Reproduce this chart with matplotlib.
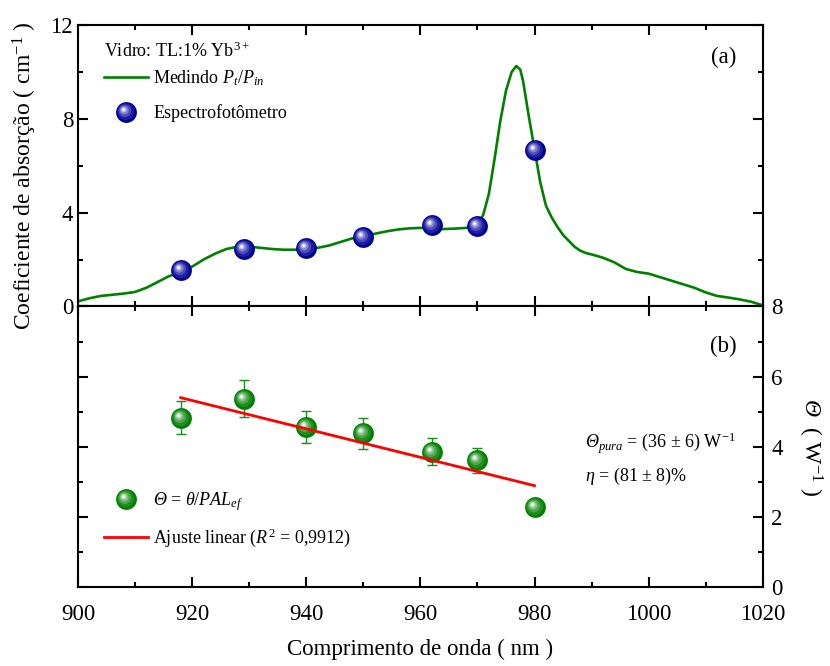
import numpy as np
import matplotlib
matplotlib.use("Agg")
import matplotlib.pyplot as plt
from matplotlib.path import Path
from matplotlib.legend_handler import HandlerTuple
from matplotlib.ticker import MultipleLocator, NullFormatter

plt.rcParams['font.family'] = ['Liberation Serif', 'DejaVu Serif']
plt.rcParams['mathtext.fontset'] = 'custom'
plt.rcParams['mathtext.rm'] = 'Liberation Serif'
plt.rcParams['mathtext.it'] = 'Liberation Serif:italic'
plt.rcParams['mathtext.bf'] = 'Liberation Serif:bold'
# \mathsf serve para o Theta maiúsculo em itálico
plt.rcParams['mathtext.sf'] = 'Liberation Serif:italic'

# (a) coeficiente de absorção medido (P_t/P_in)
wl_curve = [900, 902, 904, 906, 908, 910, 912, 914, 916, 918, 920, 922, 924, 926,
            928, 930, 932, 934, 936, 938, 940, 942, 944, 946, 948, 950, 952, 954,
            956, 958, 960, 962, 964, 966, 968, 970, 971, 972, 973, 974, 975, 976,
            976.8, 977.5, 978, 979, 980, 981, 982, 983, 984, 985, 986, 987, 988,
            989, 990, 992, 994, 996, 998, 1000, 1002, 1004, 1006, 1008, 1010,
            1012, 1014, 1016, 1018, 1020]
alpha_curve = [0.22, 0.35, 0.45, 0.5, 0.55, 0.62, 0.8, 1.05, 1.3, 1.45, 1.7, 2.0,
               2.25, 2.45, 2.55, 2.55, 2.5, 2.45, 2.42, 2.42, 2.45, 2.5, 2.6, 2.75,
               2.9, 3.0, 3.1, 3.2, 3.28, 3.33, 3.35, 3.32, 3.3, 3.32, 3.35, 3.45,
               3.9, 4.8, 6.3, 7.9, 9.2, 10.0, 10.25, 10.1, 9.6, 8.1, 6.7, 5.3, 4.3,
               3.8, 3.4, 3.05, 2.8, 2.55, 2.38, 2.28, 2.22, 2.08, 1.88, 1.6, 1.47,
               1.4, 1.25, 1.1, 0.95, 0.8, 0.6, 0.45, 0.38, 0.3, 0.2, 0.05]

# (a) espectrofotômetro
wl_spec = [918, 929, 940, 950, 962, 970, 980]
alpha_spec = [1.56, 2.46, 2.5, 2.97, 3.48, 3.44, 6.68]

# (b) Theta = theta / PAL_ef
wl_theta = [918, 929, 940, 950, 962, 970, 980]
theta = [4.83, 5.37, 4.57, 4.38, 3.86, 3.62, 2.28]
theta_err = [0.48, 0.53, 0.455, 0.44, 0.38, 0.355, 0.0]

# ajuste linear
fit_wl = [918, 980]
fit_theta = [5.40, 2.89]


def mix_white(rgb, f):
    rgb = np.array(rgb, dtype=float)
    return tuple(rgb + (1 - rgb) * f)


def sphere(ax, x, y, rgb, ms, zorder=3):
    # bolinha "3D": camadas de círculos cada vez menores e mais claros
    layers = [(0.00, 0.50, 0.00), (0.04, 0.40, 0.12), (0.08, 0.30, 0.30),
              (0.11, 0.21, 0.50), (0.13, 0.13, 0.75), (0.14, 0.06, 1.00)]
    handles = []
    for k, (off, r, f) in enumerate(layers):
        path = Path.circle((-off, off), r)
        rescale = np.abs(path.vertices).max()
        c = mix_white(rgb, f)
        h, = ax.plot(x, y, ls='none', marker=path, ms=2 * rescale * ms,
                     mfc=c, mec='none', mew=0, zorder=zorder + 0.01 * k)
        handles.append(h)
    return tuple(handles)


fig = plt.figure(figsize=(8.3, 6.66), dpi=100)
ax1 = fig.add_axes([0.094, 0.5398, 0.825, 0.4227])
ax2 = fig.add_axes([0.094, 0.1186, 0.825, 0.4212])

green = (0, 0.5, 0)
navy = (0, 0, 0.6)
hmap = {tuple: HandlerTuple(ndivide=1, pad=0)}

# ---- painel (a)
line_a, = ax1.plot(wl_curve, alpha_curve, color=green, lw=1.9, zorder=2)
sph_a = sphere(ax1, wl_spec, alpha_spec, navy, 15)

ax1.set_xlim(900, 1020)
ax1.set_ylim(0, 12)
ax1.yaxis.set_major_locator(MultipleLocator(4))
ax1.yaxis.set_minor_locator(MultipleLocator(2))
ax1.xaxis.set_major_locator(MultipleLocator(20))
ax1.xaxis.set_minor_locator(MultipleLocator(10))
ax1.xaxis.set_major_formatter(NullFormatter())
ax1.set_ylabel('Coeficiente de absorção ( cm$^{-1}$ )', fontsize=17)
ax1.yaxis.set_label_coords(-0.057, 0.464)

leg1 = ax1.legend([line_a, sph_a], ['Medindo $P_t/P_{in}$', 'Espectrofotômetro'],
                  handler_map=hmap,
                  title='Vidro: TL:1% Yb$^{3+}$', alignment='left',
                  loc='upper left', bbox_to_anchor=(0.02, 0.985), frameon=False,
                  fontsize=13, title_fontsize=13, handlelength=2.4,
                  handletextpad=0.3, labelspacing=0.92, borderpad=0.2)
leg1._legend_box.sep = 5
ax1.text(0.943, 0.883, '(a)', transform=ax1.transAxes, fontsize=16.5,
         ha='center', va='center')

# ---- painel (b)
ax2.errorbar(wl_theta, theta, yerr=theta_err, fmt='none', ecolor=(0.1, 0.55, 0.1),
             elinewidth=1, capsize=3.6, capthick=1, zorder=2)
sph_b = sphere(ax2, wl_theta, theta, green, 15)
fit_line, = ax2.plot(fit_wl, fit_theta, color='red', lw=2, zorder=5)

ax2.set_xlim(900, 1020)
ax2.set_ylim(0, 8)
ax2.yaxis.set_major_locator(MultipleLocator(2))
ax2.yaxis.set_minor_locator(MultipleLocator(1))
ax2.xaxis.set_major_locator(MultipleLocator(20))
ax2.xaxis.set_minor_locator(MultipleLocator(10))
ax2.set_xlabel('Comprimento de onda ( nm )', fontsize=16.5, labelpad=10)
ax2.yaxis.set_label_position('right')
ax2.set_ylabel(r'$\mathsf{\Theta}$  ( W$^{-1}$ )', fontsize=17, rotation=270,
               labelpad=30)

leg2 = ax2.legend([sph_b, fit_line],
                  [r'$\mathsf{\Theta}$ = $\theta/PAL_{ef}$',
                   'Ajuste linear ($R^2$ = 0,9912)'],
                  handler_map=hmap,
                  loc='lower left', bbox_to_anchor=(0.02, 0.09), frameon=False,
                  fontsize=13, handlelength=2.4, handletextpad=0.3,
                  labelspacing=0.75, borderpad=0.2)
ax2.text(988.8, 4.11, r'$\mathsf{\Theta}_{pura}$ = (36 ± 6) W$^{-1}$', fontsize=13,
         va='center')
ax2.text(988.8, 3.15, r'$\eta$ = (81 ± 8)%', fontsize=13, va='center')
ax2.text(0.943, 0.858, '(b)', transform=ax2.transAxes, fontsize=16.5,
         ha='center', va='center')

for ax in (ax1, ax2):
    for s in ax.spines.values():
        s.set_linewidth(1.5)
    ax.tick_params(which='both', direction='in', top=True, right=True, width=1.5,
                   labelsize=16.5)
    ax.tick_params(which='major', length=7)
    ax.tick_params(which='minor', length=3.6)
ax1.tick_params(axis='x', labelbottom=False)
ax2.tick_params(axis='y', labelleft=False, labelright=True, pad=6)
ax2.tick_params(axis='x', pad=12)

fig.savefig('out.png', dpi=100)
